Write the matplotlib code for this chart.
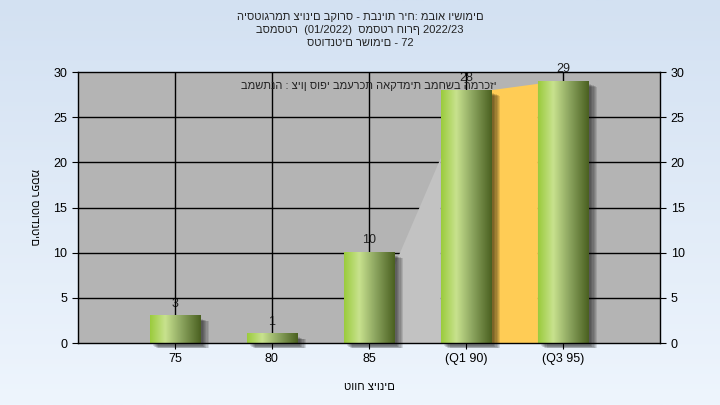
import matplotlib
matplotlib.use('Agg')
import matplotlib.pyplot as plt
import numpy as np
from matplotlib.colors import LinearSegmentedColormap
from matplotlib.patches import Rectangle, Polygon

plt.rcParams['font.family'] = ['Liberation Sans', 'DejaVu Sans']

# data
categories = ['75', '80', '85', '(Q1 90)', '(Q3 95)']
counts = [3, 1, 10, 28, 29]
value_labels = ['3', '1', '10', '28', '29']
# shaded bands between bars (left value, right value)
median_band = [8.5, 20.5]      # light grey wedge between 85 and Q1
iqr_band = [28, 28.7]          # orange band between Q1 and Q3

title_lines = ['היסטוגרמת ציונים בקורס - תבניות ריח: מבוא וישומים',
               'בסמסטר  (01/2022)  סמסטר חורף 2022/23',
               'סטודנטים רשומים - 72']
subtitle = 'במשתנה : ציון סופי במערכת האקדמית במחשב המרכזי'
xlabel = 'טווח ציונים'
ylabel = 'מספר סטודנטים'

fig = plt.figure(figsize=(7.2, 4.05), dpi=100)

# background gradient
bg = fig.add_axes([0, 0, 1, 1], zorder=-10)
bg_cmap = LinearSegmentedColormap.from_list('bg', ['#eef5fd', '#d3e1f2'])
bg.imshow(np.linspace(0, 1, 256).reshape(-1, 1)[::-1], aspect='auto', cmap=bg_cmap,
          extent=[0, 1, 0, 1])
bg.axis('off')

ax = fig.add_axes([0.108, 0.153, 0.809, 0.669])
ax.set_facecolor('#b4b4b4')

x = np.arange(len(categories))
w = 0.52

bar_cmap = LinearSegmentedColormap.from_list(
    'bar', [(0, '#9acb3c'), (0.3, '#c8e28e'), (0.6, '#8fa862'), (1, '#4a6020')])
grad = np.linspace(0, 1, 256).reshape(1, -1)

# grid
for xi in x:
    ax.axvline(xi, color='black', lw=1, zorder=1)
for yv in range(5, 30, 5):
    ax.axhline(yv, color='black', lw=1, zorder=1)

# bands
x85r = x[2] + w / 2
xq1l = x[3] - w / 2
ax.add_patch(Polygon([(x85r, 0), (x85r, median_band[0]), (xq1l, median_band[1]), (xq1l, 0)],
                     closed=True, facecolor='#c2c2c2', edgecolor='none', zorder=2))
xq1r = x[3] + w / 2
xq3l = x[4] - w / 2
ax.add_patch(Polygon([(xq1r, 0), (xq1r, iqr_band[0]), (xq3l, iqr_band[1]), (xq3l, 0)],
                     closed=True, facecolor='#ffcc55', edgecolor='none', zorder=2))

# bars with shadow + gradient
for xi, c, lab in zip(x, counts, value_labels):
    for k in range(6):
        off = 0.012 * k
        ax.add_patch(Rectangle((xi - w / 2 + 0.03 + off, -0.35 - 0.05 * k), w, c,
                               facecolor='black', alpha=0.11, edgecolor='none',
                               zorder=2.5, clip_on=False))
    ax.imshow(grad, aspect='auto', cmap=bar_cmap,
              extent=[xi - w / 2, xi + w / 2, 0, c], zorder=3)
    ax.text(xi, c + 0.7, lab, ha='center', va='bottom', fontsize=9, color='#222222', zorder=0.5)

ax.set_xlim(-1, 5)
ax.set_ylim(0, 30)
ax.set_xticks(x)
ax.set_xticklabels(categories, fontsize=9)
ax.set_yticks(range(0, 31, 5))
ax.tick_params(axis='y', labelsize=9, direction='out', length=4, right=True, labelright=True)
ax.tick_params(axis='x', direction='out', length=4)
for s in ax.spines.values():
    s.set_color('black')
    s.set_linewidth(1)
    s.set_zorder(5)

ax.set_xlabel(xlabel, fontsize=8, labelpad=12)
ax.set_ylabel(ylabel, fontsize=8, rotation=270)
ax.yaxis.set_label_coords(-0.075, 0.5)
ax.yaxis.label.set_va('center')

ax.text(0.5, 0.95, subtitle, transform=ax.transAxes, ha='center', va='center',
        fontsize=8, color='#222222', zorder=6)

for i, line in enumerate(title_lines):
    fig.text(0.5, 1 - (17 + 13 * i) / 405, line, ha='center', va='center', fontsize=8,
             color='#222222')

fig.savefig('out.png', dpi=100)
